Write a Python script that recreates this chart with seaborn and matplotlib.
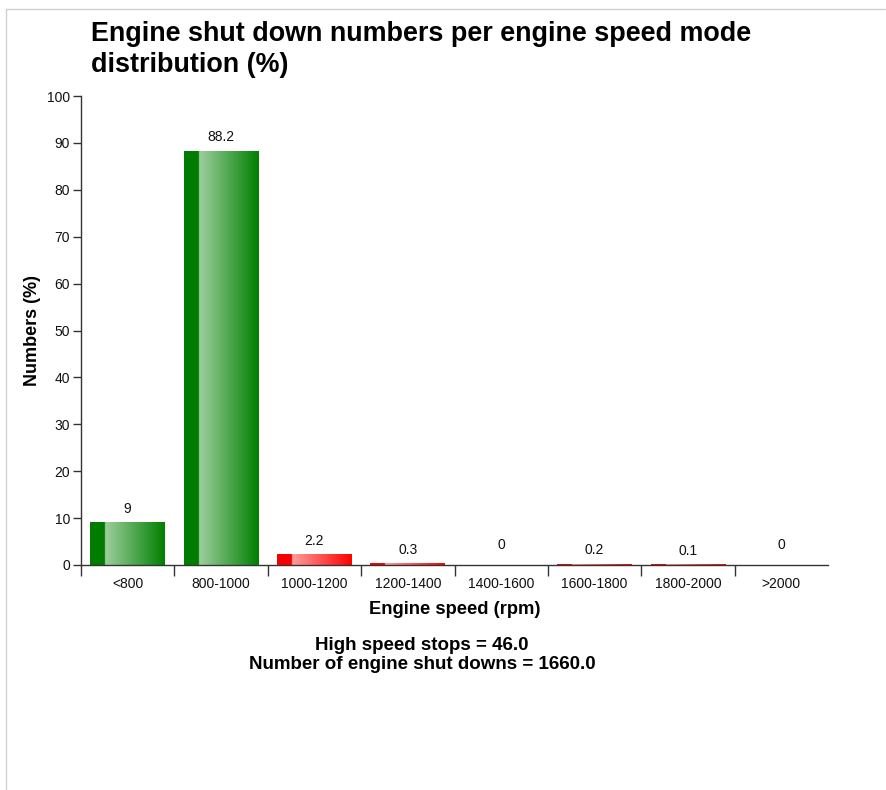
import matplotlib
matplotlib.use("Agg")
import matplotlib.pyplot as plt
import matplotlib.colors as mcolors
from matplotlib.lines import Line2D
import seaborn as sns
import numpy as np
import pandas as pd

categories = ["<800", "800-1000", "1000-1200", "1200-1400", "1400-1600", "1600-1800", "1800-2000", ">2000"]
values = [9, 88.2, 2.2, 0.3, 0, 0.2, 0.1, 0]
value_labels = ["9", "88.2", "2.2", "0.3", "0", "0.2", "0.1", "0"]
speed_class = ["normal", "normal", "high", "high", "high", "high", "high", "high"]
palette = {"normal": "#008000", "high": "#ff0000"}
title = "Engine shut down numbers per engine speed mode\ndistribution (%)"
xlabel = "Engine speed (rpm)"
ylabel = "Numbers (%)"
footer = "High speed stops = 46.0\nNumber of engine shut downs = 1660.0"
yticks = [0, 10, 20, 30, 40, 50, 60, 70, 80, 90, 100]

sns.set_style("white")
plt.rcParams["font.family"] = ["Liberation Sans", "DejaVu Sans"]
plt.rcParams["text.color"] = "black"
plt.rcParams["axes.labelcolor"] = "black"

df = pd.DataFrame({"cat": categories, "val": values, "cls": speed_class})

W, H = 886, 790
fig = plt.figure(figsize=(W / 100, H / 100), dpi=100)
ax = fig.add_axes([81 / W, 1 - 565 / H, (828 - 81) / W, (565 - 96) / H])

sns.barplot(data=df, x="cat", y="val", hue="cls", palette=palette, dodge=False,
            width=0.8, legend=False, ax=ax, saturation=1)

# gradient overlay on each bar
N = 200
for p, cls in zip(ax.patches, speed_class):
    x0, w, h = p.get_x(), p.get_width(), p.get_height()
    if h <= 0:
        continue
    base = np.array(mcolors.to_rgb(palette[cls]))
    light = base + (1 - base) * 0.62
    f = np.linspace(0, 1, N)
    img = np.zeros((1, N, 3))
    for i, fi in enumerate(f):
        if fi < 0.2:
            c = base * 0.97
        else:
            t = (fi - 0.2) / 0.8
            c = light * (1 - t) + base * t
        img[0, i] = np.clip(c, 0, 1)
    ax.imshow(img, extent=[x0, x0 + w, 0, h], aspect="auto", zorder=p.get_zorder() + 0.1,
              interpolation="bilinear")
    p.set_alpha(0)

# value labels
for i, (v, lab) in enumerate(zip(values, value_labels)):
    off = 14 if v != 0 else 20
    ax.annotate(lab, xy=(i, v), xytext=(0, off * 0.72), textcoords="offset points",
                ha="center", va="center", fontsize=10, color="#111111")

ax.set_xlim(-0.5, 7.5)
ax.set_ylim(0, 100)
ax.set_yticks(yticks)
ax.set_xticks(range(len(categories)))
ax.set_xticklabels(categories)
ax.set_xticks([i - 0.5 for i in range(len(categories))], minor=True)
ax.tick_params(axis="x", which="major", bottom=True, length=0, pad=9, labelsize=10, labelcolor="#111111")
ax.tick_params(axis="x", which="minor", bottom=True, length=8, width=1, color="#333333", direction="out")
ax.tick_params(axis="y", which="major", left=True, length=6, width=1, color="#333333", direction="out",
               pad=2, labelsize=10, labelcolor="#111111")
for s in ["top", "right"]:
    ax.spines[s].set_visible(False)
for s in ["left", "bottom"]:
    ax.spines[s].set_color("#333333")
    ax.spines[s].set_linewidth(1)

ax.set_xlabel(xlabel, fontsize=13.2, fontweight="bold", labelpad=7)
ax.set_ylabel(ylabel, fontsize=13, fontweight="bold", labelpad=4)

fig.text(91 / W, 1 - 21 / H, title, ha="left", va="top", fontsize=19.4, fontweight="bold",
         linespacing=1.25)
fig.text(422 / W, 1 - 655 / H, footer, ha="center", va="center", fontsize=13.5, fontweight="bold",
         linespacing=1.1)

# frame lines
fig.add_artist(Line2D([5.5 / W, 885 / W], [1 - 8.5 / H, 1 - 8.5 / H], transform=fig.transFigure,
                      color="#d0d0d0", lw=1))
fig.add_artist(Line2D([5.5 / W, 5.5 / W], [0, 1 - 8.5 / H], transform=fig.transFigure,
                      color="#d0d0d0", lw=1))

fig.savefig("out.png", dpi=100)
